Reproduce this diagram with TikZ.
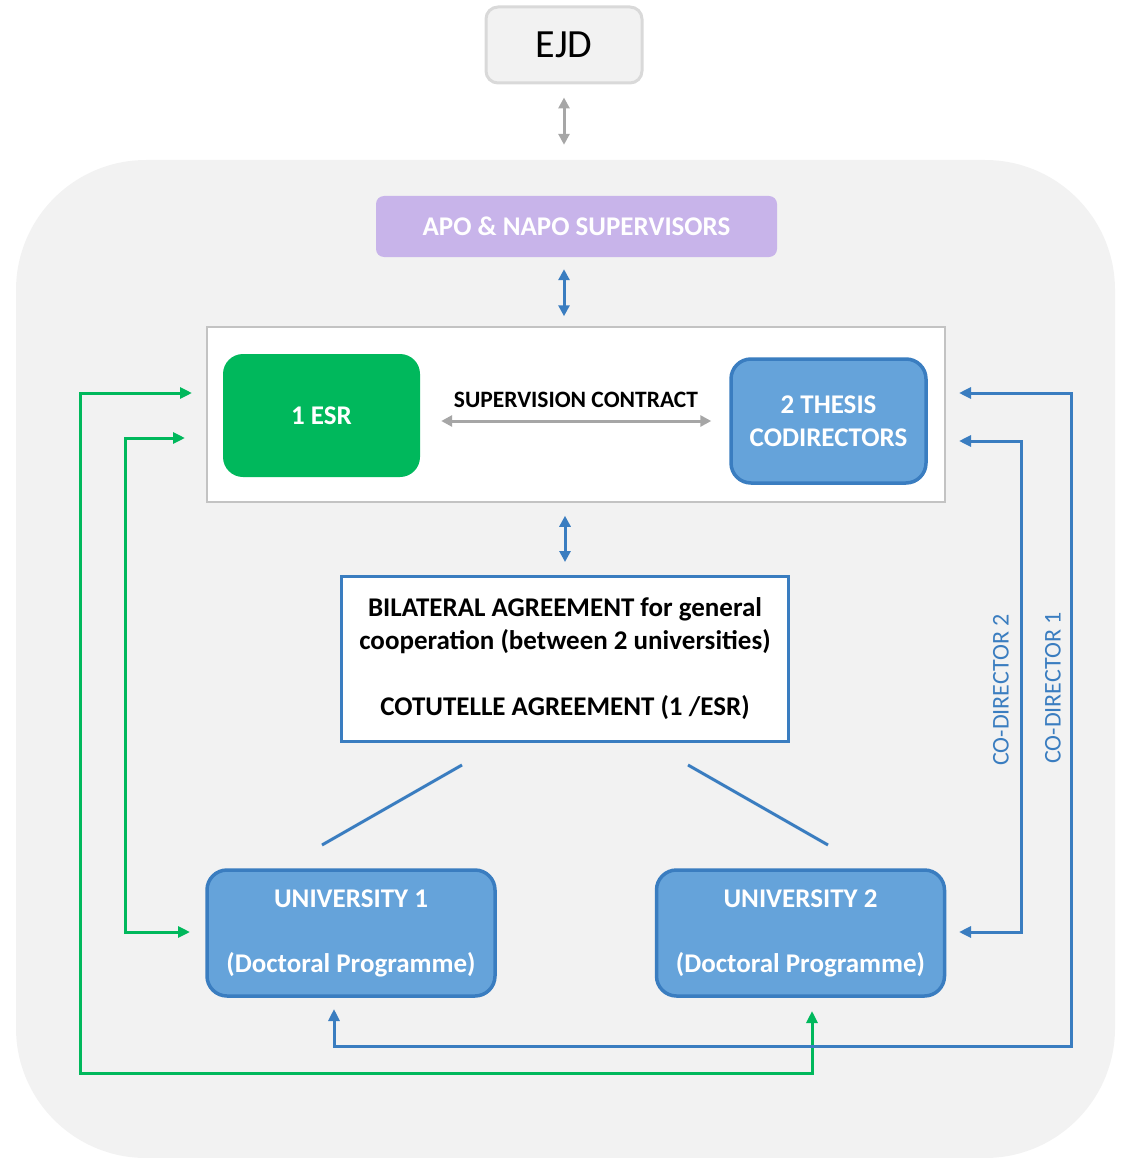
\documentclass[tikz,border=0pt]{standalone}
\usepackage{fontspec}
\setmainfont{Carlito}
\usetikzlibrary{arrows.meta,calc}
\definecolor{bgc}{HTML}{F2F2F2}
\definecolor{ejdb}{HTML}{D9D9D9}
\definecolor{lav}{HTML}{C8B4EA}
\definecolor{esrg}{HTML}{00B85C}
\definecolor{bfill}{HTML}{65A3DA}
\definecolor{bline}{HTML}{3A7DC0}
\definecolor{garr}{HTML}{A6A6A6}
\definecolor{grn}{HTML}{00B85C}
\tikzset{
  dbl/.style={{Triangle[length=11pt,width=11pt]}-{Triangle[length=11pt,width=11pt]}},
  grayarrow/.style={dbl, draw=garr, line width=3pt},
  bluearrow/.style={dbl, draw=bline, line width=3pt},
  greenloop/.style={{Triangle[length=12pt,width=11pt]}-{Triangle[length=12pt,width=11pt]}, draw=grn, line width=3pt},
  blueloop/.style={{Triangle[length=12pt,width=11pt]}-{Triangle[length=12pt,width=11pt]}, draw=bline, line width=3pt},
  bluebox/.style={draw=bline, fill=bfill, line width=3.5pt, rounded corners=20pt, text=white, font=\fontsize{27}{33}\selectfont\bfseries, align=center, inner sep=0pt},
  boxtext/.style={font=\fontsize{27}{33}\selectfont\bfseries, align=center, inner sep=0pt},
}
\begin{document}
\begin{tikzpicture}[x=1pt,y=-1pt]
\useasboundingbox (0,0) rectangle (1128,1158);
% background container
\node[draw=none, fill=bgc, rounded corners=130pt, minimum width=1099pt, minimum height=998pt, inner sep=0pt] (bg) at (565.5,659) {};
% EJD
\node[draw=ejdb, fill=bgc, line width=3pt, rounded corners=12pt, minimum width=156pt, minimum height=76pt, inner sep=0pt, font=\fontsize{40}{44}\selectfont] (ejd) at (564,45) {EJD};
% APO
\node[fill=lav, rounded corners=8pt, minimum width=401pt, minimum height=61pt, text=white, font=\fontsize{27}{30}\selectfont\bfseries, inner sep=0pt] (apo) at (576.5,226.5) {APO \& NAPO SUPERVISORS};
% white box
\node[draw=ejdb!90!black, fill=white, line width=1.5pt, minimum width=738pt, minimum height=175pt, inner sep=0pt] (wb) at (576,414.5) {};
% ESR
\node[fill=esrg, rounded corners=20pt, minimum width=197pt, minimum height=123pt, text=white, font=\fontsize{27}{30}\selectfont\bfseries, inner sep=0pt] (esr) at (321.5,415.5) {1 ESR};
% codirectors
\node[bluebox, minimum width=195pt, minimum height=124pt] (cod) at (828.5,421) {2 THESIS\\CODIRECTORS};
% supervision contract
\node[font=\fontsize{23.5}{26}\selectfont\bfseries, inner sep=0pt] (sc) at (576,400) {SUPERVISION CONTRACT};
% bilateral
\node[draw=bline, fill=white, line width=3pt, minimum width=447pt, minimum height=165pt, boxtext] (bil) at (565,659) {BILATERAL AGREEMENT for general\\cooperation (between 2 universities)\\[33pt]COTUTELLE AGREEMENT (1 /ESR)};
% universities
\node[bluebox, minimum width=288pt, minimum height=126pt] (u1) at (351,933) {UNIVERSITY 1\\[32pt](Doctoral Programme)};
\node[bluebox, minimum width=288pt, minimum height=126pt] (u2) at (800.5,933) {UNIVERSITY 2\\[32pt](Doctoral Programme)};
% co-director labels
\node[rotate=90, text=bline, font=\fontsize{24}{26}\selectfont, inner sep=0pt] (cd2) at (1001,690) {CO-DIRECTOR 2};
\node[rotate=90, text=bline, font=\fontsize{24}{26}\selectfont, inner sep=0pt] (cd1) at (1053,688) {CO-DIRECTOR 1};
% vertical arrows
\draw[grayarrow, shorten <=13pt, shorten >=15pt] (ejd.south) -- (ejd.south |- bg.north);
\draw[bluearrow, shorten <=12pt, shorten >=10pt] (apo.south -| 564,0) -- (564,0 |- wb.north);
\draw[bluearrow, shorten <=13pt, shorten >=13pt] (wb.south -| bil.north) -- (bil.north);
\draw[grayarrow, shorten <=21pt, shorten >=18pt] (esr.east |- cod.west) -- (cod.west);
% lines from bilateral
\coordinate (l1a) at (462,765); \coordinate (l1b) at (322,845);
\coordinate (l2a) at (688,765); \coordinate (l2b) at (828,845);
\draw[bline, line width=3pt] (l1a) -- (l1b);
\draw[bline, line width=3pt] (l2a) -- (l2b);
% loop endpoints
\coordinate (gO1) at (192,393); \coordinate (gO2) at (812,1011);
\coordinate (gI1) at (185,438); \coordinate (gI2) at (190,932);
\coordinate (bO1) at (959,393); \coordinate (bO2) at (334,1009);
\coordinate (bI1) at (959,441); \coordinate (bI2) at (959,932);
\draw[greenloop] (gO1) -- (80,393) -- (80,1073) -- (812,1073) -- (gO2);
\draw[greenloop] (gI1) -- (125,438) -- (125,932) -- (gI2);
\draw[blueloop] (bO1) -- (1071,393) -- (1071,1046) -- (334,1046) -- (bO2);
\draw[blueloop] (bI1) -- (1021,441) -- (1021,932) -- (bI2);
\end{tikzpicture}
\end{document}
